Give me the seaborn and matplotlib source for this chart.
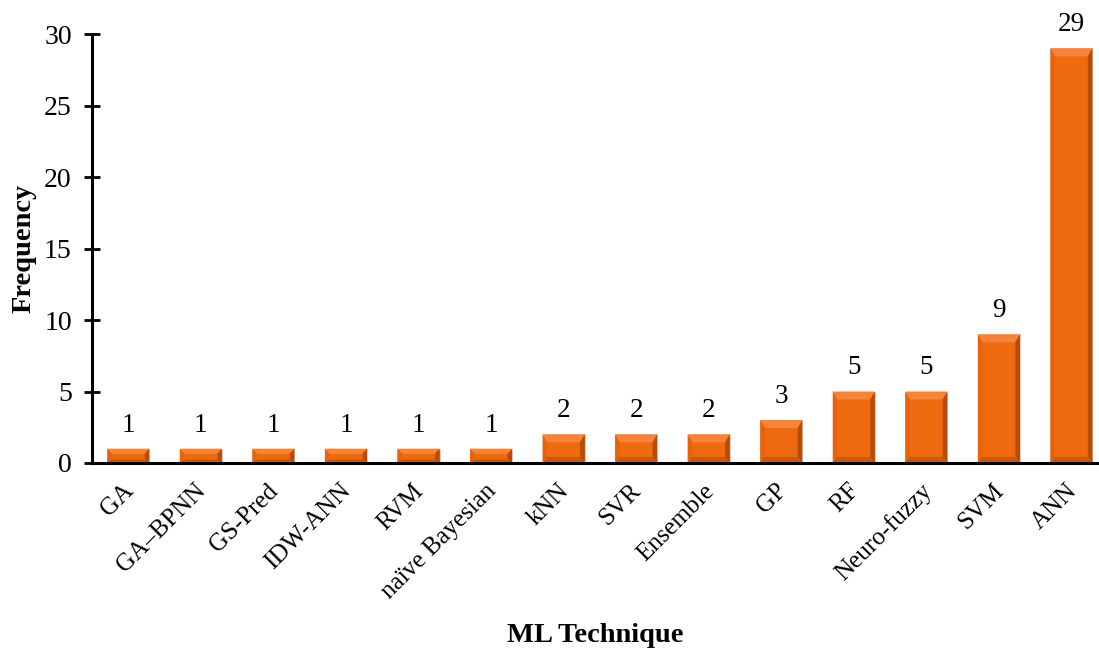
import matplotlib
matplotlib.use("Agg")
import matplotlib.pyplot as plt
from matplotlib.patches import Polygon
from matplotlib.transforms import ScaledTranslation
import seaborn as sns
import pandas as pd

techniques = ["GA", "GA\u2013BPNN", "GS-Pred", "IDW-ANN", "RVM", "naïve Bayesian",
              "kNN", "SVR", "Ensemble", "GP", "RF", "Neuro-fuzzy", "SVM", "ANN"]
frequency = [1, 1, 1, 1, 1, 1, 2, 2, 2, 3, 5, 5, 9, 29]
y_ticks = [0, 5, 10, 15, 20, 25, 30]

sns.set_theme(style="white")
plt.rcParams["font.family"] = ["Liberation Serif", "DejaVu Serif"]
plt.rcParams["text.color"] = "black"
plt.rcParams["axes.labelcolor"] = "black"
plt.rcParams["xtick.color"] = "black"
plt.rcParams["ytick.color"] = "black"

df = pd.DataFrame({"technique": techniques, "frequency": frequency})

fig = plt.figure(figsize=(10.99, 6.48), dpi=100)
ax = fig.add_axes([0.0837, 0.2855, 0.9163, 0.662])

base = "#EE6A0E"
sns.barplot(data=df, x="technique", y="frequency", color=base, width=0.58,
            saturation=1, ax=ax, edgecolor="#CFCFCF", linewidth=0.6)

# bevelled look on each bar: light top facet, shaded sides and bottom
for patch in ax.patches:
    x0, y0 = patch.get_x(), patch.get_y()
    w, h = patch.get_width(), patch.get_height()
    bx = w * 0.11
    bt = min(0.56, h * 0.36)
    bb = min(0.42, h * 0.26)
    tl, tr = (x0, y0 + h), (x0 + w, y0 + h)
    bl, br = (x0, y0), (x0 + w, y0)
    itl, itr = (x0 + bx, y0 + h - bt), (x0 + w - bx, y0 + h - bt)
    ibl, ibr = (x0 + bx, y0 + bb), (x0 + w - bx, y0 + bb)
    facets = [
        ([tl, tr, itr, itl], "#F5843A"),
        ([tl, itl, ibl, bl], "#E8620A"),
        ([tr, br, ibr, itr], "#B84C06"),
        ([bl, ibl, ibr, br], "#CC5808"),
    ]
    for pts, col in facets:
        ax.add_patch(Polygon(pts, closed=True, facecolor=col, edgecolor="none",
                             zorder=patch.get_zorder() + 0.1))

for i, v in enumerate(frequency):
    ax.annotate(str(v), (i, v), xytext=(0, 8), textcoords="offset points",
                ha="center", va="bottom", fontsize=19.5, color="black")

ax.set_ylim(0, 30)
ax.set_xlim(-0.5, 13.38)
ax.set_yticks(y_ticks)
ax.set_yticklabels([str(t) for t in y_ticks], fontsize=20)
ax.tick_params(axis="y", direction="inout", length=11, width=2, color="black", pad=9, left=True)
ax.tick_params(axis="x", length=0, pad=12)
ax.set_xticks(range(len(techniques)))
ax.set_xticklabels(techniques, rotation=45, ha="right", rotation_mode="anchor", fontsize=18)
shift = ScaledTranslation(-6 / 100, 0, fig.dpi_scale_trans)
for lbl in ax.get_xticklabels():
    lbl.set_transform(lbl.get_transform() + shift)

for side in ["top", "right"]:
    ax.spines[side].set_visible(False)
for side in ["left", "bottom"]:
    ax.spines[side].set_color("black")
    ax.spines[side].set_linewidth(2.2)

ax.set_xlabel("ML Technique", fontsize=20.5, fontweight="bold")
ax.set_ylabel("Frequency", fontsize=20.5, fontweight="bold")
ax.xaxis.set_label_coords(0.5, -0.372)
ax.yaxis.set_label_coords(-0.055, 0.5)

fig.savefig("out.png", dpi=100)
